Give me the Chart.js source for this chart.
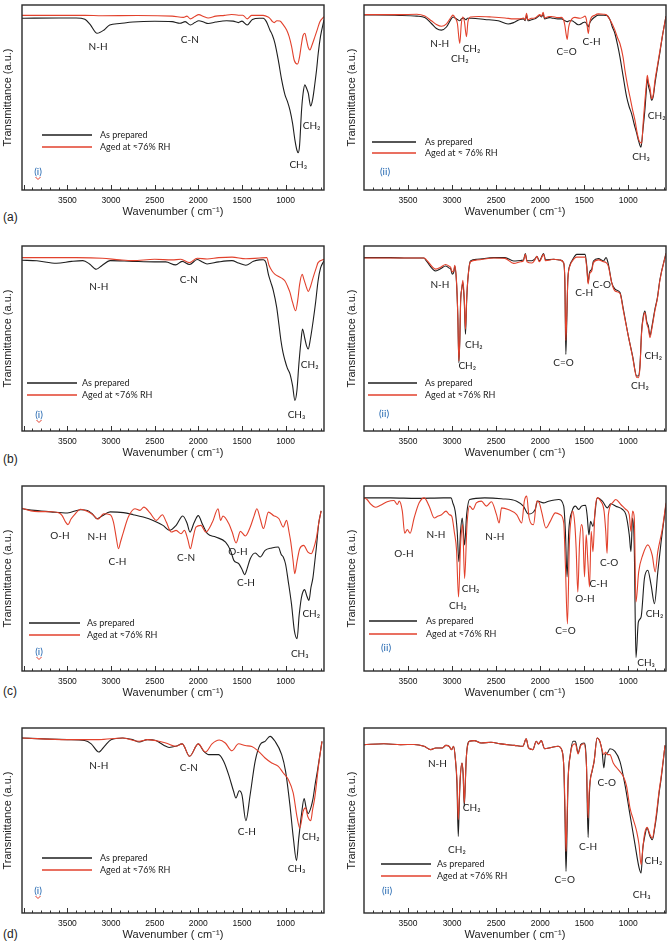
<!DOCTYPE html>
<html>
<head>
<meta charset="utf-8">
<script src="https://cdn.jsdelivr.net/npm/chart.js@4.4.1/dist/chart.umd.min.js"></script>
<style>
body { margin: 0; background: #fff; width: 671px; height: 945px; position: relative; overflow: hidden; }
canvas { position: absolute; }
.tag { position: absolute; left: 3px; font: 12px "Liberation Sans", Arial, sans-serif; color: #222; }
</style>
</head>
<body>
<div class="tag" style="top:210px">(a)</div>
<div class="tag" style="top:452px">(b)</div>
<div class="tag" style="top:684px">(c)</div>
<div class="tag" style="top:927px">(d)</div>

<script>
// ===========================
// Eixo x (cm-1)
// ===========================
const wnTickLabels = [3500, 3000, 2500, 2000, 1500, 1000];

// ===========================
// Espectros [numero de onda, transmitancia (u.a.)]
// ===========================
const aiPrep = [[4020,92.8],[3600,93],[3400,93],[3300,92.3],[3240,89.5],[3160,84.7],[3080,86.5],[3015,89.2],[2900,90],[2750,90.8],[2500,91.2],[2300,91],[2210,90.1],[2150,91],[2090,89.2],[2040,90.5],[1994,91.5],[1940,90.8],[1887,90],[1800,90.8],[1676,91.5],[1600,91.3],[1540,90.5],[1500,91.3],[1440,89.2],[1380,92.2],[1300,92.8],[1256,92.8],[1220,91],[1180,86.5],[1150,83.5],[1122,79.3],[1084,70.3],[1045,59.5],[1007,51.4],[980,48],[950,43.2],[920,36],[893,27],[870,21.5],[855,20.2],[840,24],[817,43.2],[800,52],[779,56.8],[760,55],[740,52.3],[713,45.4],[690,49],[664,57.7],[645,65],[626,73.9],[600,83],[560,91.9]];
const aiAged = [[4020,94.4],[3300,94.4],[3100,94.2],[2700,94.3],[2300,94],[2170,93.3],[2130,94],[2090,92.5],[2040,93.8],[1994,94.8],[1940,93.8],[1887,93],[1800,94],[1700,94.4],[1620,94.9],[1540,94.5],[1490,94.5],[1440,92.5],[1390,94.4],[1256,94.4],[1200,93.5],[1180,92.8],[1150,91],[1130,90.5],[1100,91.5],[1065,91.3],[1030,89.5],[988,86.5],[960,83],[931,77.5],[900,70],[862,68.1],[840,72],[817,79.3],[800,83.5],[779,84.7],[760,81],[740,77],[721,75.7],[700,78],[664,82.9],[635,87],[607,91],[560,93.7]];

const aiiPrep = [[4000,94.6],[3600,94.4],[3400,94],[3310,93.3],[3235,90],[3178,87.3],[3121,86.4],[3064,88.1],[3010,92.5],[2989,93.5],[2962,92.8],[2935,92],[2913,91.5],[2895,92.5],[2870,93],[2845,92],[2825,92.8],[2780,92.8],[2629,92.2],[2477,91.5],[2364,89.7],[2300,90.5],[2231,92.2],[2190,92.5],[2170,91.5],[2155,94.5],[2140,91.5],[2100,92],[2061,92.5],[2030,93.5],[2004,94.3],[1985,93.5],[1966,95],[1950,92.5],[1900,93.2],[1871,93],[1800,92.5],[1758,92.5],[1720,91.5],[1693,91],[1670,91.5],[1640,91.5],[1606,90.5],[1570,89.3],[1549,89.5],[1510,90.5],[1492,90.8],[1475,90],[1454,88.2],[1440,90],[1424,91.5],[1380,93.5],[1341,94.5],[1280,94.5],[1246,94.4],[1208,92],[1180,88],[1152,84.6],[1120,78],[1095,72],[1057,61],[1019,50.3],[990,45],[962,41.2],[930,35],[905,30.7],[880,26],[856,23.1],[835,32],[811,43.7],[795,54],[784,60.3],[770,56],[754,53],[735,48.5],[715,51],[697,57.6],[670,66],[640,74.7],[610,84],[572,93.9]];
const aiiAged = [[4000,94.8],[3600,94.8],[3400,95],[3310,94],[3235,91.5],[3178,89.5],[3121,88.5],[3064,89.8],[3010,93.5],[2990,94.5],[2965,93],[2940,90],[2913,79.2],[2895,90],[2880,93.5],[2860,91],[2837,82.8],[2820,91],[2790,93.5],[2700,93.8],[2550,93.5],[2400,93],[2300,92.5],[2231,92.5],[2190,93],[2170,92],[2155,95.5],[2140,92],[2100,92.8],[2061,93],[2030,94],[2004,94.8],[1985,94],[1966,96],[1950,93],[1900,93.8],[1871,93.8],[1800,93.2],[1758,93.3],[1735,92],[1720,89],[1705,84],[1693,81.4],[1680,87],[1670,89.5],[1640,92.5],[1606,93.3],[1549,92.8],[1510,93.5],[1492,94],[1475,92],[1454,84.6],[1440,90],[1424,92.8],[1380,94.5],[1341,95.2],[1280,95],[1246,94.6],[1208,92],[1180,89.5],[1152,86.4],[1120,82],[1095,79.2],[1060,72],[1038,64.7],[1010,57],[981,50.3],[950,43],[924,37.6],[900,31],[879,26.8],[848,25.3],[830,37],[811,48.5],[795,57],[784,62],[770,58],[754,55.4],[735,49.4],[715,52],[697,59.3],[670,67],[640,75.6],[610,84],[572,93.9]];

const biPrep = [[4020,92.3],[3850,92],[3625,90.7],[3450,91.7],[3322,92.1],[3246,90.3],[3170,87.4],[3100,89.6],[3011,92.1],[2753,91.7],[2500,91.4],[2373,91.4],[2260,89.8],[2185,91.7],[2100,90],[2013,92.7],[1960,91.5],[1900,90.3],[1767,91.4],[1614,92.1],[1540,90.8],[1455,89.6],[1368,91.7],[1300,92.5],[1254,92.6],[1225,91],[1197,84.7],[1170,80.5],[1140,75.8],[1102,66.8],[1075,57],[1053,48.8],[1030,42.5],[1007,38.1],[980,34],[950,30.9],[920,24.5],[893,16.5],[870,22],[848,36.1],[825,48],[806,55.1],[780,50],[760,46],[741,44.3],[715,50],[684,59.6],[655,70],[628,81.1],[600,88],[560,92]];
const biAged = [[4020,93.7],[3400,93.7],[3100,93.4],[2900,92.5],[2753,92.1],[2500,92.8],[2300,92.5],[2200,92.8],[2100,91],[2013,93.4],[1900,93],[1767,93.7],[1614,94],[1455,93.1],[1300,93.5],[1216,93.7],[1190,89.6],[1155,86.5],[1121,84.7],[1080,83.5],[1040,82.5],[1007,81.1],[980,78.5],[950,74.9],[920,69.5],[885,65],[860,71],[840,79],[810,84.7],[790,82],[760,77.5],[741,75.4],[715,78],[684,83],[650,88],[628,91],[560,92.8]];

const biiPrep = [[4000,93.7],[3700,93.7],[3500,93.5],[3320,93.5],[3292,91.9],[3186,86.5],[3130,87.7],[3074,89.2],[3030,88],[3017,87.7],[2998,84.7],[2980,86],[2970,89.2],[2950,80.2],[2935,62],[2923,36.9],[2912,50],[2904,69.4],[2890,77],[2878,80.2],[2862,70],[2848,52.3],[2835,70],[2821,82],[2791,91.9],[2720,92.8],[2527,93.7],[2400,93.7],[2301,91.9],[2220,92.2],[2190,92.5],[2169,95.9],[2150,92],[2094,92],[2060,93],[2037,94.4],[2010,92],[1961,95.9],[1940,92.5],[1848,92.8],[1773,92.4],[1735,91],[1720,80],[1709,41.4],[1698,60],[1686,82],[1660,90],[1641,91.9],[1584,95.5],[1520,95.5],[1490,95.5],[1471,89],[1456,80.2],[1443,85],[1433,86.5],[1415,87.4],[1396,91.9],[1339,93.2],[1282,91.9],[1252,93.7],[1226,90.1],[1188,80.2],[1150,76.6],[1094,74.8],[1056,65.8],[1000,51.4],[951,40.5],[905,29.7],[887,29.7],[868,35],[849,54],[830,62],[811,64.9],[790,59],[773,56.8],[754,51.7],[730,57],[698,65.8],[670,72],[641,81.9],[572,96]];
const biiAged = [[4000,93.5],[3700,93.5],[3500,93.5],[3320,93.5],[3292,92.5],[3186,87.5],[3130,88.5],[3074,90],[3030,89],[3017,88.5],[2998,86],[2980,87],[2970,89.5],[2950,81],[2935,62],[2923,37.8],[2912,50],[2904,68.5],[2890,77],[2878,81.5],[2862,72],[2848,55],[2835,71],[2821,82],[2791,91.5],[2720,92.4],[2527,93.5],[2400,93.3],[2301,90.6],[2220,91.5],[2190,92],[2169,95.5],[2150,91.5],[2094,90.8],[2060,92.5],[2037,94.4],[2010,91.5],[1961,95.5],[1940,92],[1848,92.8],[1773,92.4],[1735,91],[1720,82],[1709,49],[1698,63],[1686,82],[1660,89.5],[1641,91.5],[1584,94],[1520,94],[1490,94],[1471,88],[1456,79.5],[1443,84],[1433,85.5],[1415,86.5],[1396,91],[1339,92.5],[1282,91.5],[1252,91],[1226,89],[1188,80],[1150,75.7],[1094,74.3],[1056,65],[1000,51.4],[951,40],[905,29],[887,28.8],[868,34],[849,53],[830,61],[811,64],[790,58],[773,55.5],[754,50.5],[730,56],[698,65],[670,71.5],[641,81.5],[572,96]];

const ciPrep = [[4020,87.7],[3878,86.8],[3689,86],[3500,85.4],[3349,87.2],[3270,86.8],[3217,85],[3160,82.3],[3104,83.8],[3009,86],[2858,85.6],[2745,84.5],[2631,83.2],[2518,81.4],[2405,78.7],[2329,76],[2254,78.7],[2178,83.8],[2130,80],[2095,75.1],[2050,80],[2001,84],[1950,79],[1895,74.2],[1801,72.4],[1688,69.7],[1631,65.2],[1593,59.8],[1537,58],[1500,55],[1469,52.1],[1440,55.5],[1405,60.7],[1348,63.8],[1291,61.6],[1235,65.2],[1159,66.5],[1084,67],[1050,63],[1027,61.6],[1000,57.7],[970,48.6],[932,36],[900,22],[868,17.5],[845,30],[819,39.6],[800,43],[781,44],[760,41],[732,38.2],[710,45],[687,50.3],[668,58],[649,66.1],[620,80],[593,86.5]];
const ciAged = [[4020,88],[3878,86.3],[3689,86.1],[3594,85.4],[3560,84],[3520,80.5],[3493,79.1],[3460,82],[3425,84.1],[3349,87.4],[3274,86.3],[3198,84.1],[3149,82],[3085,85],[3009,84.5],[2972,80.5],[2940,72],[2915,66.1],[2890,70],[2858,75.1],[2802,83.2],[2726,87.7],[2669,86.8],[2624,88.6],[2556,85.6],[2480,81.4],[2412,84.5],[2367,80.5],[2310,75.1],[2254,76],[2197,74.2],[2159,76],[2120,71],[2091,66.1],[2060,72],[2027,77.8],[1970,78.7],[1914,75.1],[1838,80.5],[1774,87.7],[1744,81.4],[1718,83.8],[1650,79.6],[1612,75.1],[1567,69.2],[1518,75.5],[1461,73],[1405,77.8],[1360,84],[1329,87.7],[1291,82.3],[1254,77],[1197,85.9],[1140,84.1],[1076,82.3],[1027,77.8],[989,81.4],[960,75],[940,69.5],[915,60],[895,52.6],[870,59],[838,66.1],[793,67.9],[744,64.3],[706,63.4],[680,66],[649,71.5],[620,80],[593,86.5]];

const ciiPrep = [[4000,93.6],[3700,93.6],[3400,93.3],[3100,93.6],[3011,93.6],[2992,90.9],[2965,86.4],[2942,75.5],[2923,59.1],[2904,75.5],[2885,82.7],[2858,68.2],[2835,84.5],[2801,92.7],[2630,93.6],[2439,93.1],[2267,91.8],[2191,89.1],[2134,84.9],[2057,87.3],[2030,91.8],[1962,90.9],[1905,91.8],[1790,92.7],[1733,89.1],[1714,75.5],[1695,50.9],[1676,75.5],[1638,86.4],[1600,89.1],[1562,87.3],[1531,89.1],[1485,89.6],[1466,83.6],[1447,73.6],[1428,80.9],[1401,78.2],[1352,93.6],[1294,91.8],[1237,88.2],[1199,90.4],[1142,89.1],[1065,87.3],[1027,84.5],[989,73.6],[970,64.5],[951,82.7],[932,66.4],[913,7.3],[886,26.4],[855,29.1],[817,50],[779,54.5],[741,46.4],[703,36.4],[665,53.6],[627,70],[572,90]];
const ciiAged = [[4000,93.6],[3966,92.7],[3928,90.4],[3870,88.5],[3813,89.6],[3737,91.5],[3660,92.2],[3622,90],[3600,91.8],[3565,86.4],[3538,74.5],[3508,76.4],[3477,74.5],[3431,82.7],[3374,90.9],[3317,93.6],[3260,89.1],[3202,82.7],[3164,83.6],[3120,84.5],[3069,86.4],[3031,84.5],[3004,83.6],[2973,74.5],[2950,65.5],[2927,40],[2904,68.2],[2881,79.1],[2858,50],[2831,79.1],[2801,89.1],[2763,87.3],[2725,90.9],[2668,91.8],[2610,89.1],[2553,91.5],[2496,84.5],[2466,80],[2439,88.2],[2363,87.3],[2267,84.5],[2210,80],[2180,91.8],[2153,94.5],[2126,82.7],[2076,79.1],[2038,91.8],[2011,90.9],[1981,85.5],[1935,77.3],[1886,80.9],[1828,85.5],[1771,84.5],[1733,80],[1714,57.3],[1691,25.5],[1668,70],[1645,83.6],[1630,86.4],[1607,79.1],[1592,66.4],[1573,42.7],[1554,68.2],[1531,79.1],[1516,75.5],[1497,50.9],[1478,73.6],[1459,59.1],[1440,45.5],[1421,75.5],[1401,64.5],[1378,86.4],[1352,93.6],[1313,91.8],[1275,86.4],[1256,75.5],[1241,63.6],[1226,84.5],[1180,90.9],[1142,92.7],[1085,90],[1027,87.3],[989,84.5],[970,75.5],[951,86.4],[932,82.7],[913,37.3],[882,53.6],[836,62.7],[779,68.2],[729,62.7],[695,53.6],[665,64.5],[615,76.4],[572,90.9]];

const diPrep = [[4020,94.6],[3701,94],[3500,93.7],[3303,93.2],[3227,91.4],[3140,87],[3076,90.1],[3000,93.7],[2866,94.6],[2753,93.7],[2677,92.4],[2582,93.7],[2487,93.2],[2392,90.6],[2335,89.5],[2259,90.1],[2184,91.4],[2100,84.7],[2001,91.4],[1937,87.4],[1880,85.6],[1767,85.6],[1710,82],[1653,74.8],[1596,65.8],[1569,62.2],[1531,66.1],[1500,63.9],[1455,49.9],[1406,63.9],[1349,82],[1292,91],[1235,92.8],[1178,95.5],[1121,92.8],[1045,85.6],[1000,76.6],[951,58.6],[910,40],[875,28.3],[850,40],[818,53.2],[788,61.8],[765,57],[742,53.7],[710,57],[686,61.8],[660,70],[636,76.6],[583,92.8]];
const diAged = [[4020,94.6],[3500,93.7],[3140,93.7],[2866,94.6],[2677,92.8],[2582,93.7],[2373,91.9],[2259,90.1],[2184,91.4],[2100,84.7],[2001,91.4],[1918,87],[1843,91.4],[1760,93.5],[1691,91.9],[1615,87.7],[1539,91.5],[1463,90.5],[1387,90],[1311,87.4],[1235,83.8],[1159,81.1],[1083,79.3],[1026,75.7],[969,72.1],[913,64.9],[867,51.4],[837,45.9],[799,54.9],[773,56.8],[745,52],[712,49.9],[690,56],[666,62.2],[621,80.2],[583,92.8]];

const diiPrep = [[4000,91],[3774,91.5],[3584,91],[3432,91.1],[3318,90.1],[3242,88.3],[3185,89.2],[3109,89.2],[3070,90.6],[3033,90.1],[3006,88.3],[2983,90.1],[2964,83.8],[2945,70],[2930,41.4],[2918,60],[2907,73],[2888,81.1],[2875,75],[2862,57.7],[2850,70],[2839,83.8],[2805,92.8],[2748,93.2],[2672,91.9],[2558,92.3],[2444,91.4],[2292,90.6],[2197,90.1],[2159,94.1],[2132,89.2],[2083,88.3],[2045,92.8],[2018,91.4],[1988,93.2],[1950,88.8],[1874,89.5],[1798,90.1],[1752,87.7],[1730,76.6],[1718,50],[1707,22.5],[1695,45],[1684,71.2],[1658,85.6],[1627,92.8],[1601,92.8],[1570,86.5],[1540,91],[1502,91.9],[1475,80.2],[1456,40.9],[1445,60],[1433,71.2],[1411,76.6],[1388,82],[1354,94.6],[1323,92.8],[1297,87.4],[1278,78.4],[1259,85.6],[1236,86.5],[1209,88.8],[1152,87.4],[1095,82],[1038,69.4],[981,53.2],[924,37.1],[878,24.5],[855,21.6],[835,35],[817,40.5],[787,45.9],[753,41.4],[727,39.6],[700,46],[678,53.2],[650,65],[628,72.4],[583,90.6]];
const diiAged = [[4000,91],[3774,91.5],[3584,91],[3432,91.1],[3318,90.1],[3242,88.3],[3185,89.2],[3109,89.2],[3070,90.6],[3033,90.1],[3006,88.3],[2983,90.1],[2964,83.8],[2945,72],[2930,50.5],[2918,63],[2907,74],[2888,81.1],[2875,76],[2862,59.5],[2850,71],[2839,83.8],[2805,92.8],[2748,93.2],[2672,91.9],[2558,92.3],[2444,91.4],[2292,90.6],[2197,90.1],[2159,94.1],[2132,89.2],[2083,88.3],[2045,92.8],[2018,91.4],[1988,93.2],[1950,88.8],[1874,89.5],[1798,90.1],[1752,87.7],[1730,77],[1718,56],[1707,33.3],[1695,52],[1684,71.2],[1658,85.6],[1627,91],[1601,91.5],[1570,86],[1540,90.5],[1502,91.5],[1475,80],[1456,51.4],[1445,65],[1433,71.2],[1411,77],[1388,82],[1354,94.6],[1323,92.8],[1297,88],[1278,85.6],[1259,87],[1236,85.6],[1209,85.6],[1171,81.1],[1114,77.5],[1057,73.9],[1019,68.5],[981,56.8],[943,50.5],[905,44.1],[878,36.9],[855,26.1],[835,35],[817,42.3],[787,46.3],[753,42.3],[727,40.5],[700,47],[678,54.9],[650,66],[628,73.3],[583,90.6]];

// ===========================
// Rotulos das bandas [texto, numero de onda, transmitancia]
// ===========================
const aiBands = [['N-H',3148,77.5],['C-N',2097,81.4],['CH₃',855,13.5],['CH₂',702,34.6]];
const aiiBands = [['N-H',3140,79.2],['CH₂',2913,71],['CH₂',2780,76.5],['C=O',1700,74.7],['C-H',1417,80.1],['CH₃',856,18.1],['CH₂',678,40.3]];
const biBands = [['N-H',3140,77.9],['C-N',2108,81.5],['CH₃',875,9],['CH₂',724,35.9]];
const biiBands = [['N-H',3138,79.3],['CH₂',2753,46.8],['CH₂',2828,35.1],['C=O',1735,36.9],['C-H',1501,74.8],['C-O',1301,79.3],['CH₂',868,24.3],['CH₂',717,40.9]];
const ciBands = [['O-H',3585,73],['N-H',3160,72.8],['C-H',2926,59.3],['C-N',2140,61.1],['O-H',1545,64.7],['C-H',1454,47.7],['CH₃',838,9.4],['CH₂',706,31]];
const ciiBands = [['O-H',3546,63.6],['N-H',3183,73.6],['N-H',2515,72.7],['CH₂',2790,44.5],['CH₂',2935,35.5],['C=O',1714,21.8],['O-H',1493,39.1],['C-H',1337,47.3],['C-O',1218,58.7],['CH₂',703,30.9],['CH₃',798,4.5]];
const diBands = [['N-H',3140,79.8],['C-N',2108,78.7],['C-H',1444,43.8],['CH₃',875,24],['CH₂',712,41.4]];
const diiBands = [['N-H',3166,80.5],['CH₂',2778,56.8],['CH₂',2945,34.2],['C=O',1722,18],['C-H',1456,36],['C-O',1244,70.3],['CH₃',848,9.9],['CH₂',715,28.3]];

const labelPrep = 'As prepared';
const labelAged = 'Aged at ≈76% RH';
const labelAgedSp = 'Aged at ≈ 76% RH';

// ===========================
// Paineis
// ===========================
const LEFT = { x0: 0, w: 335, pr: 11, range: [560, 4020], titlePad: 1.5 };
const RIGHT = { x0: 342, w: 329, pr: 5, range: [572, 4000], titlePad: 3 };
const rowTops = [5, 246, 486, 728];

const paineis = [
    { col: LEFT,  row: 0, prep: aiPrep,  aged: aiAged,  bands: aiBands,  roman: '(i)',  tagPos: [16, 167], aged_label: labelAged,   leg: { x0: 20, x1: 70, tx: 78, y: [130, 142] } },
    { col: RIGHT, row: 0, prep: aiiPrep, aged: aiiAged, bands: aiiBands, roman: '(ii)', tagPos: [21, 167], aged_label: labelAgedSp, leg: { x0: 8, x1: 52, tx: 61, y: [137, 148] } },
    { col: LEFT,  row: 1, prep: biPrep,  aged: biAged,  bands: biBands,  roman: '(i)',  tagPos: [17, 169], aged_label: labelAged,   leg: { x0: 5, x1: 55, tx: 60, y: [137, 149] } },
    { col: RIGHT, row: 1, prep: biiPrep, aged: biiAged, bands: biiBands, roman: '(ii)', tagPos: [20, 168], aged_label: labelAged,   leg: { x0: 4, x1: 53, tx: 61, y: [137, 149] } },
    { col: LEFT,  row: 2, prep: ciPrep,  aged: ciAged,  bands: ciBands,  roman: '(i)',  tagPos: [17, 166], aged_label: labelAged,   leg: { x0: 7, x1: 58, tx: 65, y: [137, 149] } },
    { col: RIGHT, row: 2, prep: ciiPrep, aged: ciiAged, bands: ciiBands, roman: '(ii)', tagPos: [22, 162], aged_label: labelAged,   leg: { x0: 5, x1: 53, tx: 62, y: [135, 148] } },
    { col: LEFT,  row: 3, prep: diPrep,  aged: diAged,  bands: diBands,  roman: '(i)',  tagPos: [16, 163], aged_label: labelAged,   leg: { x0: 20, x1: 70, tx: 78, y: [130, 142] } },
    { col: RIGHT, row: 3, prep: diiPrep, aged: diiAged, bands: diiBands, roman: '(ii)', tagPos: [23, 163], aged_label: labelAged,   leg: { x0: 17, x1: 67, tx: 73, y: [136, 148] } }
];

const TXT = '#1c1c1c';
const BAND_FONT = '10px Lato, "Noto Sans", "DejaVu Sans", sans-serif';
const LEG_FONT = '9px Lato, "Noto Sans", "DejaVu Sans", sans-serif';

// ===========================
// Moldura, ticks internos, legenda e rotulos
// ===========================
const decoracao = {
    id: 'decoracao',
    afterDraw(chart, args, o) {
        const { ctx, chartArea: a, scales: { x, y } } = chart;
        ctx.save();

        // ticks para dentro (100 em 100, maiores a cada 500)
        ctx.strokeStyle = '#333';
        ctx.lineWidth = 1;
        for (let v = 600; v <= 4000; v += 100) {
            const px = Math.round(x.getPixelForValue(v)) + 0.5;
            if (px <= a.left + 1 || px >= a.right - 1) continue;
            const len = v % 500 === 0 ? 5 : 2.5;
            ctx.beginPath();
            ctx.moveTo(px, a.bottom);
            ctx.lineTo(px, a.bottom - len);
            ctx.stroke();
        }

        // moldura
        ctx.strokeStyle = '#2a2a2a';
        ctx.lineWidth = 1.4;
        ctx.strokeRect(a.left, a.top, a.right - a.left, a.bottom - a.top);

        // bandas
        ctx.fillStyle = TXT;
        ctx.font = BAND_FONT;
        ctx.textAlign = 'center';
        ctx.textBaseline = 'middle';
        o.bands.forEach(([t, wn, val]) => {
            ctx.fillText(t, x.getPixelForValue(wn), y.getPixelForValue(val));
        });

        // legenda
        const L = o.leg;
        ctx.font = LEG_FONT;
        chart.data.datasets.forEach((ds, i) => {
            const yy = a.top + L.y[i];
            ctx.strokeStyle = ds.borderColor;
            ctx.lineWidth = 1.3;
            ctx.beginPath();
            ctx.moveTo(a.left + L.x0, yy);
            ctx.lineTo(a.left + L.x1, yy);
            ctx.stroke();
            ctx.fillStyle = TXT;
            ctx.textAlign = 'left';
            ctx.fillText(ds.label, a.left + L.tx, yy);
        });

        // (i) / (ii)
        const tx = a.left + o.tagPos[0], ty = a.top + o.tagPos[1];
        ctx.font = '10px Lato, "Noto Sans", sans-serif';
        ctx.fillStyle = '#2166b0';
        ctx.textAlign = 'center';
        ctx.fillText(o.roman, tx, ty);
        if (o.roman === '(i)') {
            ctx.strokeStyle = '#e03a2a';
            ctx.lineWidth = 1;
            ctx.beginPath();
            ctx.moveTo(tx - 2.5, ty + 5);
            ctx.lineTo(tx, ty + 7.5);
            ctx.lineTo(tx + 2.5, ty + 5);
            ctx.stroke();
        }
        ctx.restore();
    }
};

// ===========================
// Criar grafico
// ===========================
function criarPainel(p) {
    const col = p.col;
    const top = rowTops[p.row] - 5;
    const canvas = document.createElement('canvas');
    canvas.width = col.w;
    canvas.height = 222;
    canvas.style.left = col.x0 + 'px';
    canvas.style.top = top + 'px';
    document.body.appendChild(canvas);

    new Chart(canvas.getContext('2d'), {
        type: 'line',
        data: {
            datasets: [
                {
                    label: labelPrep,
                    data: p.prep.map(d => ({ x: d[0], y: d[1] })),
                    borderColor: '#1e1e1e',
                    borderWidth: 1.1,
                    order: 1
                },
                {
                    label: p.aged_label,
                    data: p.aged.map(d => ({ x: d[0], y: d[1] })),
                    borderColor: '#e2412c',
                    borderWidth: 1.1,
                    order: 0
                }
            ]
        },
        options: {
            responsive: false,
            animation: false,
            events: [],
            layout: { padding: { top: 5, right: col.pr, left: 0, bottom: 0 } },
            elements: {
                point: { radius: 0 },
                line: { cubicInterpolationMode: 'monotone', fill: false }
            },
            plugins: {
                legend: { display: false },
                tooltip: { enabled: false },
                decoracao: { bands: p.bands, leg: p.leg, roman: p.roman, tagPos: p.tagPos }
            },
            scales: {
                x: {
                    type: 'linear',
                    reverse: true,
                    min: col.range[0],
                    max: col.range[1],
                    afterBuildTicks: s => { s.ticks = wnTickLabels.map(v => ({ value: v })); },
                    afterFit: s => { s.height = 32; },
                    grid: { display: false, drawTicks: false },
                    border: { display: false },
                    ticks: {
                        autoSkip: false,
                        maxRotation: 0,
                        padding: 6,
                        color: '#111',
                        callback: v => String(v),
                        font: { family: '"Liberation Sans", Arial, sans-serif', size: 8.5 }
                    },
                    title: {
                        display: true,
                        text: 'Wavenumber ( cm⁻¹)',
                        color: '#222',
                        padding: { top: 0, bottom: 3 },
                        font: { family: '"Liberation Sans", Arial, sans-serif', size: 11 }
                    }
                },
                y: {
                    min: 0,
                    max: 100,
                    afterFit: s => { s.width = 22; },
                    grid: { display: false, drawTicks: false },
                    border: { display: false },
                    ticks: { display: false },
                    title: {
                        display: true,
                        text: 'Transmittance (a.u.)',
                        color: '#222',
                        padding: { top: col.titlePad, bottom: 0 },
                        font: { family: '"Liberation Sans", Arial, sans-serif', size: 11 }
                    }
                }
            }
        },
        plugins: [decoracao]
    });
}

paineis.forEach(criarPainel);
</script>
</body>
</html>
